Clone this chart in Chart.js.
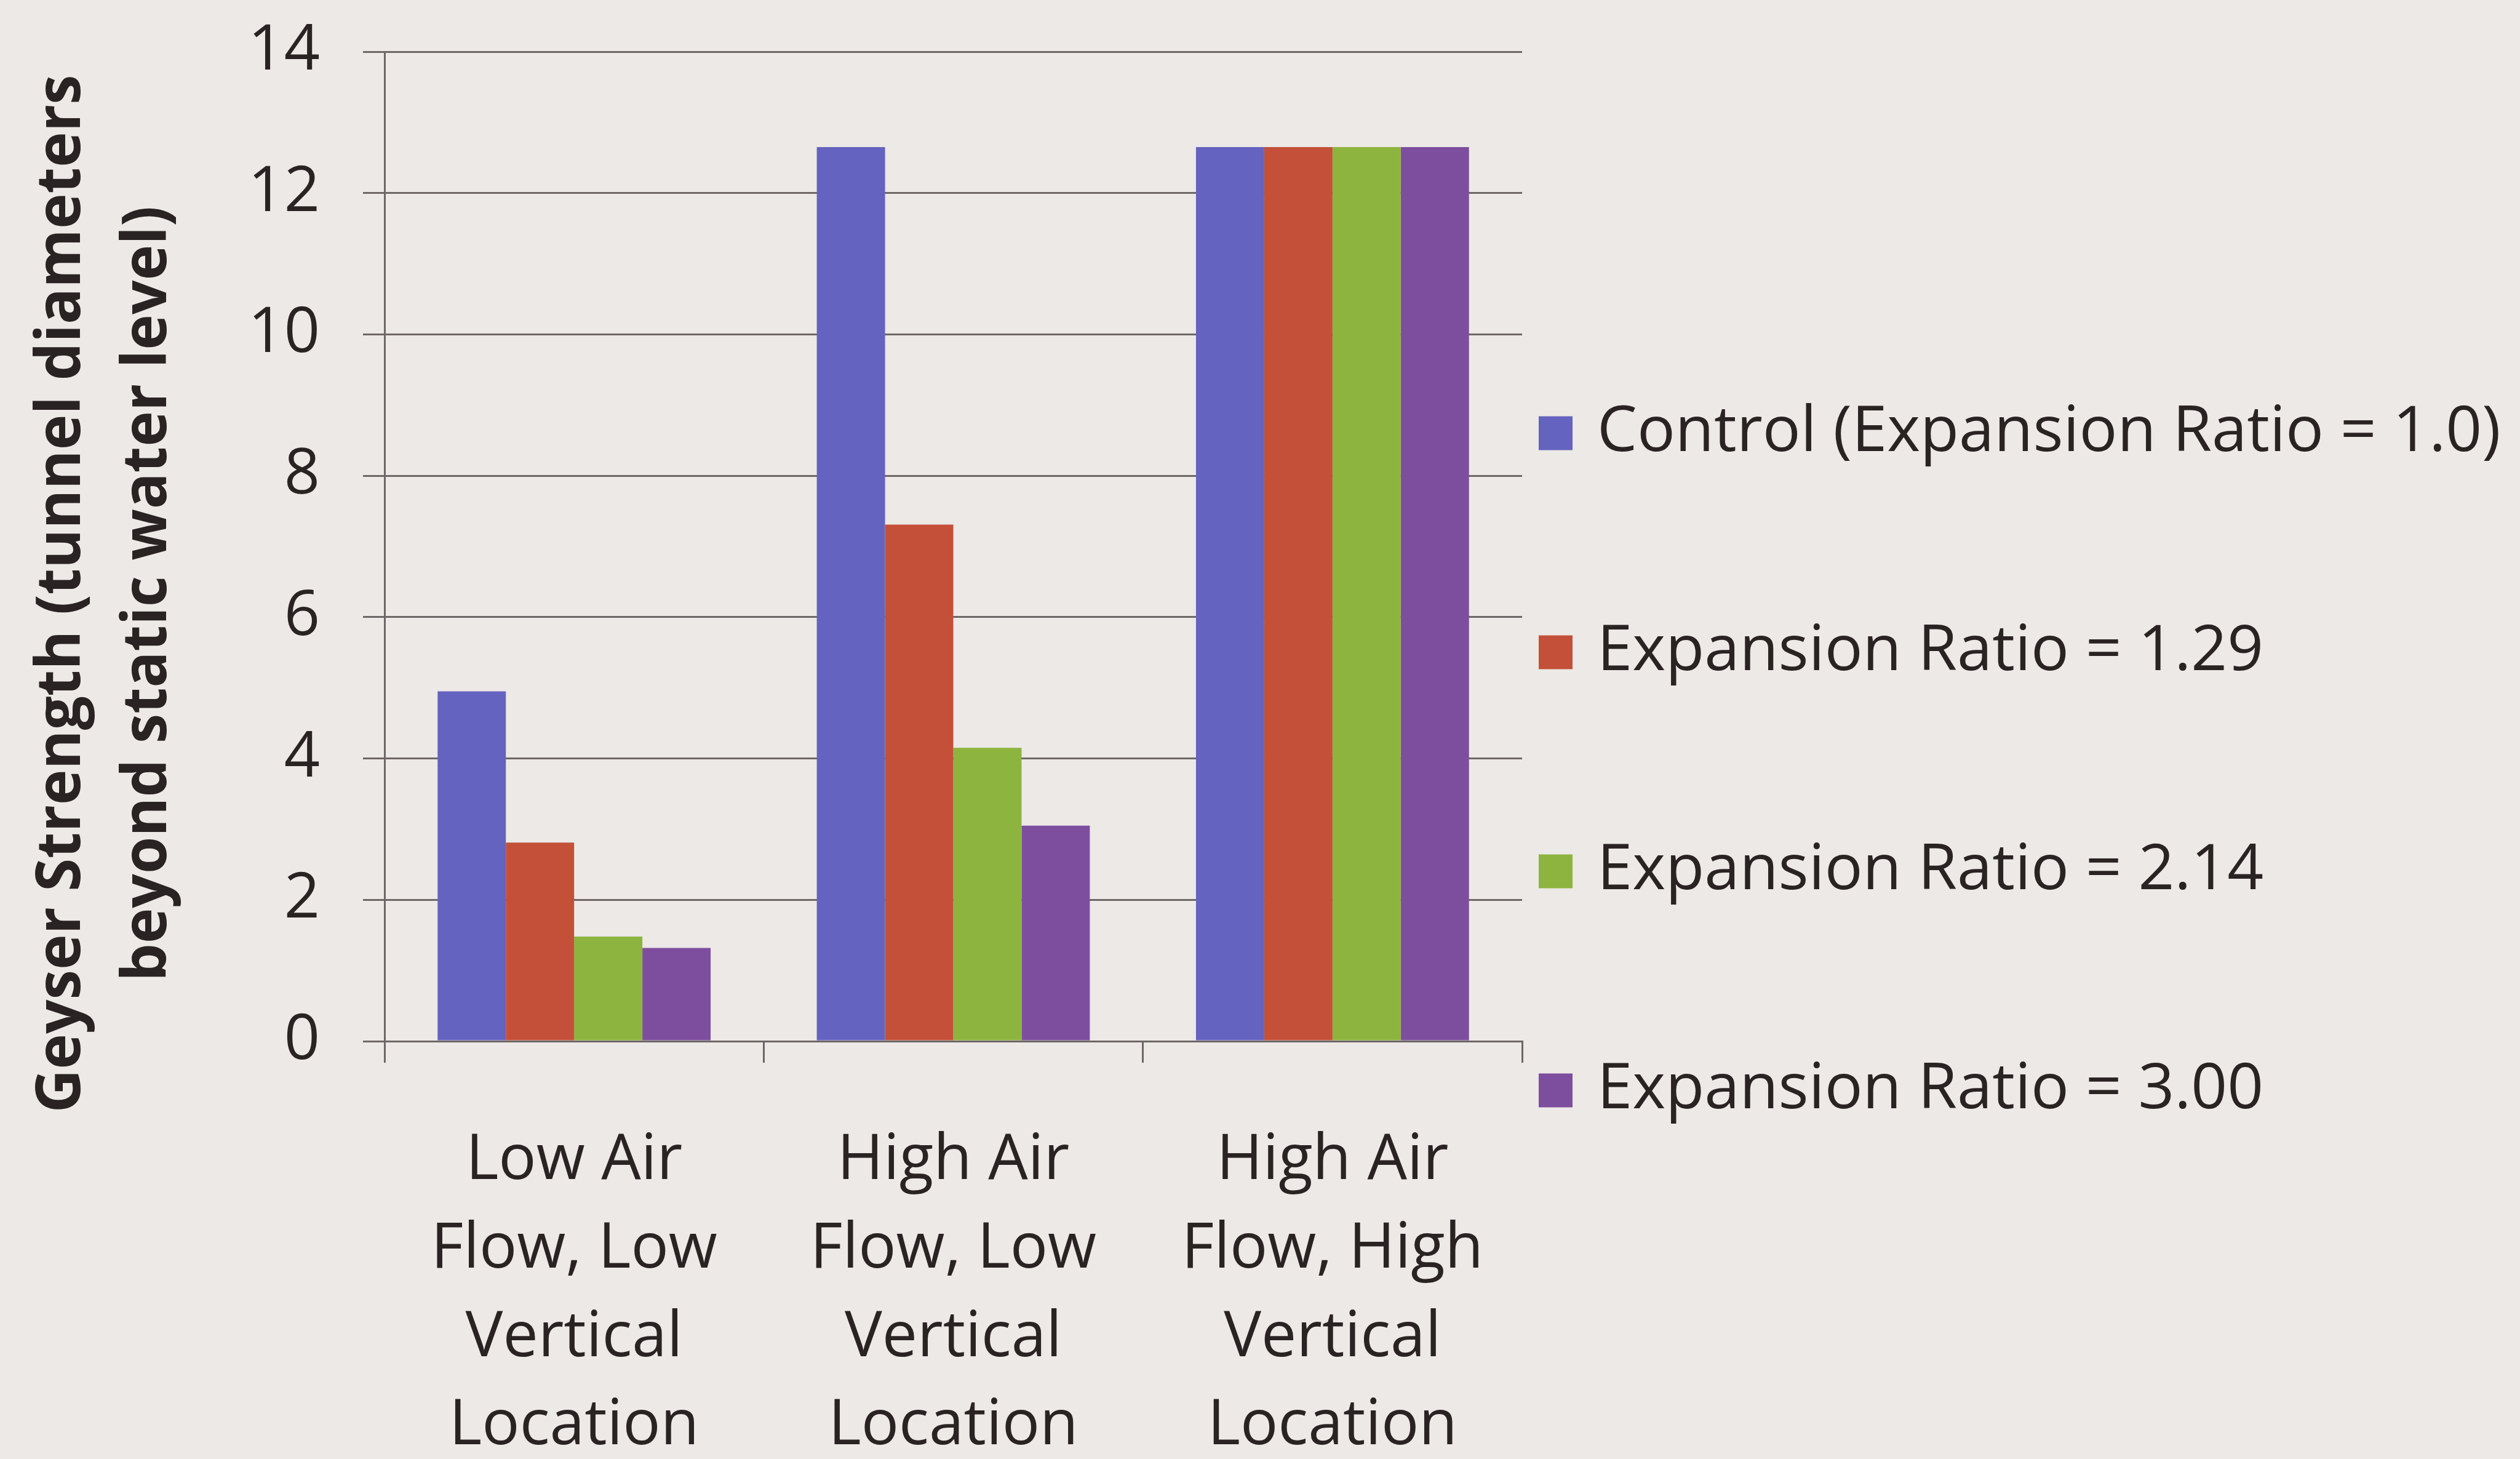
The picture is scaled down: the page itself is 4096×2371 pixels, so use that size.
<!DOCTYPE html>
<html>
<head>
<meta charset="utf-8">
<script src="https://cdn.jsdelivr.net/npm/chart.js@4.4.1/dist/chart.umd.min.js"></script>
<style>
  html, body { margin: 0; padding: 0; background: #ECE9E6; overflow: hidden; }
  canvas { display: block; }
</style>
</head>
<body>
<canvas id="geyser" width="4096" height="2371"></canvas>
<script>
// Test conditions (multi-line category labels)
const categories = [
  ["Low Air", "Flow, Low", "Vertical", "Location"],
  ["High Air", "Flow, Low", "Vertical", "Location"],
  ["High Air", "Flow, High", "Vertical", "Location"]
];
const seriesNames = [
  "Control (Expansion Ratio = 1.0)",
  "Expansion Ratio = 1.29",
  "Expansion Ratio = 2.14",
  "Expansion Ratio = 3.00"
];
// Geyser strength, in tunnel diameters beyond static water level
const controlValues  = [4.95, 12.65, 12.65];
const ratio129Values = [2.81, 7.31, 12.65];
const ratio214Values = [1.48, 4.15, 12.65];
const ratio300Values = [1.32, 3.05, 12.65];
const yTicks = [0, 2, 4, 6, 8, 10, 12, 14];
const yTitleLines = ["Geyser Strength (tunnel diameters", "beyond static water level)"];

const seriesColors = ["#6463BF", "#C4503A", "#8DB43F", "#7E4E9E"];
const seriesValues = [controlValues, ratio129Values, ratio214Values, ratio300Values];

const BG = "#ECE9E6";
const INK = "#2A2323";
const LINE = "#6E6767";
const FONT = "'Open Sans', Lato, sans-serif";

// Paint the page colour behind everything
const backgroundPlugin = {
  id: "pageBackground",
  beforeDraw(chart) {
    const ctx = chart.ctx;
    ctx.save();
    ctx.fillStyle = BG;
    ctx.fillRect(0, 0, chart.width, chart.height);
    ctx.restore();
  }
};

// Two-line rotated title for the value axis
const yTitlePlugin = {
  id: "valueAxisTitle",
  afterDraw(chart) {
    const ctx = chart.ctx;
    const centreY = 965;
    const lineX = [102, 242];
    const firstLineLength = 1687;
    ctx.save();
    ctx.fillStyle = INK;
    ctx.font = "bold 100px " + FONT;
    ctx.textAlign = "center";
    ctx.textBaseline = "middle";
    const stretch = firstLineLength / ctx.measureText(yTitleLines[0]).width;
    yTitleLines.forEach((line, i) => {
      ctx.save();
      ctx.translate(lineX[i], centreY);
      ctx.rotate(-Math.PI / 2);
      ctx.scale(stretch, 1);
      ctx.fillText(line, 0, 0);
      ctx.restore();
    });
    ctx.restore();
  }
};

// Legend to the right of the plot
const sideLegendPlugin = {
  id: "sideLegend",
  afterDraw(chart) {
    const ctx = chart.ctx;
    const area = chart.chartArea;
    const boxX = area.right + 27;
    const box = 55;
    const textX = area.right + 122;
    const firstY = 704;
    const step = 356;
    ctx.save();
    ctx.font = "103px " + FONT;
    ctx.textAlign = "left";
    ctx.textBaseline = "middle";
    chart.data.datasets.forEach((ds, i) => {
      const cy = firstY + i * step;
      ctx.fillStyle = ds.backgroundColor;
      ctx.fillRect(boxX, cy - box / 2, box, box);
      ctx.fillStyle = INK;
      ctx.fillText(ds.label, textX, cy);
    });
    ctx.restore();
  }
};

new Chart(document.getElementById("geyser"), {
  type: "bar",
  data: {
    labels: categories,
    datasets: seriesNames.map((name, i) => ({
      label: name,
      data: seriesValues[i],
      backgroundColor: seriesColors[i],
      borderWidth: 0,
      categoryPercentage: 0.72,
      barPercentage: 1.0
    }))
  },
  options: {
    responsive: false,
    animation: false,
    devicePixelRatio: 1,
    layout: { padding: { left: 0, right: 1622, top: 84, bottom: 0 } },
    plugins: {
      legend: { display: false },
      tooltip: { enabled: false },
      title: { display: false }
    },
    scales: {
      x: {
        afterFit(scale) {
          scale.height = 679;
          scale.paddingLeft = 0;
          scale.paddingRight = 0;
        },
        grid: {
          display: true,
          drawOnChartArea: false,
          drawTicks: true,
          tickLength: 35,
          color: LINE,
          lineWidth: 3
        },
        border: { display: true, color: LINE, width: 3 },
        ticks: {
          color: INK,
          padding: 88,
          maxRotation: 0,
          autoSkip: false,
          font: { family: FONT, size: 102, lineHeight: 1.41 }
        }
      },
      y: {
        afterFit(scale) {
          scale.width = 625;
          scale.paddingTop = 0;
          scale.paddingBottom = 0;
        },
        min: yTicks[0],
        max: yTicks[yTicks.length - 1],
        grid: {
          display: true,
          drawTicks: true,
          tickLength: 35,
          color: LINE,
          lineWidth: 3
        },
        border: { display: true, color: LINE, width: 3 },
        ticks: {
          stepSize: yTicks[1] - yTicks[0],
          color: INK,
          padding: 70,
          font: { family: FONT, size: 102 }
        }
      }
    }
  },
  plugins: [backgroundPlugin, yTitlePlugin, sideLegendPlugin]
});
</script>
</body>
</html>
